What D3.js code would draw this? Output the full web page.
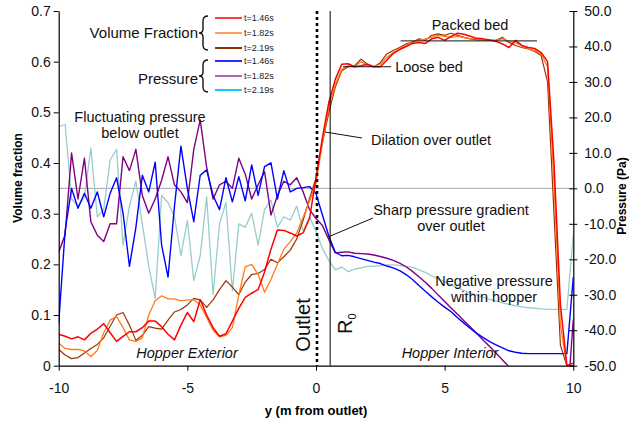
<!DOCTYPE html>
<html>
<head>
<meta charset="utf-8">
<script src="https://cdn.jsdelivr.net/npm/d3@7"></script>
<style>
  body { margin: 0; background: #fff; }
  svg { font-family: "Liberation Sans", Arial, sans-serif; }
</style>
</head>
<body>
<div id="chart"></div>
<script>
// sample positions along y (m from outlet)
const yPos = [-10, -9.75, -9.5, -9.25, -9, -8.75, -8.5, -8.25, -8, -7.75,
  -7.5, -7.25, -7, -6.75, -6.5, -6.25, -6, -5.75, -5.5, -5.25,
  -5, -4.75, -4.5, -4.25, -4, -3.75, -3.5, -3.25, -3, -2.75,
  -2.5, -2.25, -2, -1.75, -1.5, -1.25, -1, -0.75, -0.5, -0.25,
  0, 0.25, 0.5, 0.75, 1, 1.25, 1.5, 1.75, 2, 2.25,
  2.5, 2.75, 3, 3.25, 3.5, 3.75, 4, 4.25, 4.5, 4.75,
  5, 5.25, 5.5, 5.75, 6, 6.25, 6.5, 6.75, 7, 7.25,
  7.5, 7.75, 8, 8.25, 8.5, 8.75, 9, 9.25, 9.5, 9.75, 10];

// volume fraction
const volT146 = [0.062, 0.058, 0.053, 0.057, 0.051, 0.064, 0.072, 0.083, 0.065, 0.048,
  0.058, 0.067, 0.067, 0.075, 0.088, 0.088, 0.077, 0.062, 0.051, 0.080,
  0.105, 0.087, 0.130, 0.100, 0.075, 0.058, 0.063, 0.088, 0.113, 0.135,
  0.143, 0.150, 0.185, 0.230, 0.268, 0.267, 0.262, 0.256, 0.262, 0.291,
  0.370, 0.450, 0.520, 0.565, 0.595, 0.596, 0.590, 0.592, 0.595, 0.590,
  0.590, 0.603, 0.616, 0.624, 0.630, 0.636, 0.638, 0.636, 0.645, 0.648,
  0.642, 0.650, 0.656, 0.654, 0.650, 0.646, 0.645, 0.643, 0.640, 0.635,
  0.628, 0.642, 0.632, 0.628, 0.626, 0.618, 0.600, 0.400, 0.120, 0.000, 0.005];
const volT182 = [0.045, 0.034, 0.032, 0.032, 0.029, 0.018, 0.030, 0.065, 0.090, 0.097,
  0.075, 0.051, 0.048, 0.055, 0.100, 0.128, 0.138, 0.132, 0.132, 0.128,
  0.130, 0.130, 0.120, 0.095, 0.070, 0.057, 0.060, 0.075, 0.140, 0.195,
  0.200, 0.180, 0.145, 0.170, 0.200, 0.230, 0.245, 0.262, 0.293, 0.325,
  0.360, 0.440, 0.510, 0.555, 0.585, 0.592, 0.590, 0.600, 0.592, 0.590,
  0.595, 0.608, 0.618, 0.625, 0.632, 0.640, 0.642, 0.645, 0.648, 0.652,
  0.650, 0.648, 0.650, 0.648, 0.645, 0.645, 0.644, 0.643, 0.642, 0.645,
  0.640, 0.637, 0.632, 0.625, 0.622, 0.615, 0.590, 0.360, 0.080, 0.000, 0.000];
const volT219 = [0.032, 0.021, 0.014, 0.016, 0.025, 0.034, 0.042, 0.055, 0.078, 0.100,
  0.105, 0.080, 0.050, 0.060, 0.077, 0.074, 0.072, 0.090, 0.106, 0.111,
  0.120, 0.133, 0.130, 0.115, 0.130, 0.150, 0.168, 0.155, 0.140, 0.165,
  0.180, 0.182, 0.190, 0.210, 0.203, 0.215, 0.228, 0.250, 0.287, 0.330,
  0.370, 0.440, 0.500, 0.550, 0.582, 0.590, 0.592, 0.605, 0.595, 0.590,
  0.598, 0.615, 0.622, 0.628, 0.635, 0.638, 0.645, 0.642, 0.652, 0.655,
  0.652, 0.656, 0.652, 0.648, 0.645, 0.643, 0.643, 0.642, 0.642, 0.648,
  0.638, 0.632, 0.628, 0.625, 0.620, 0.612, 0.560, 0.300, 0.040, 0.000, 0.000];

// pressure (Pa)
const presT146 = [-38, -12, 0, -5.6, -1.4, -5.6, -1, -8, -1.4, 3,
  -7, -22, -11, 3.7, -1, 7.4, -16, -25, -5, 11.9,
  0, -9.4, 3.7, 5.2, -2, -6, 3, -3.8, 3.3, -3.5,
  6.6, -2, 6.1, 7.2, -3, 5, -1, 0, 0.2, 0.5,
  -1.5, -7.5, -13.5, -18, -19, -18.9, -19.3, -19.8, -20.3, -20.8,
  -21.2, -21.9, -22.4, -23.2, -24.3, -25.7, -27.4, -29, -30.6, -32.1,
  -33.5, -34.8, -36.5, -38, -39.5, -40.9, -42.1, -43.2, -44.1, -45,
  -45.8, -46.2, -46.5, -46.6, -46.6, -46.6, -46.6, -46.6, -46.6, -46.6, -25];
const presT182 = [-18, -13, 10, -3, 8.5, -9.4, -13.2, -15, -10, -10,
  8.9, 5, 11, -2, -7, -3, 2.3, 8.9, 1, -1,
  -4, 11, 19.3, 6, -3, 1, 2, 0, 8.5, 4,
  -3, 1, 4.7, -7.5, -2, 2, 1, 3, -1, -6,
  -8.5, -10.5, -14.5, -18.2, -18, -17.9, -18.3, -18.4, -18.5, -18.8,
  -19.2, -19.7, -20.3, -21.1, -22.1, -23.4, -24.9, -26.5, -28.2, -30.1,
  -31.9, -33.7, -35.5, -37.3, -39.1, -40.9, -42.8, -44.6, -46.5, -48.4,
  -50.3, -52.2, -54, -56, -58, -60, -61, -62, -62, -62, -37];
const presT219 = [17.4, 18, -3, -5, -2.4, 11.3, -8, -6, 8, 11,
  -16, -5, 2, -10, -22, -31, -2, -4, -8, -19,
  -9, -26, -19, -2.4, -30, -10, -4, -29, -10, -11,
  -7, -16, -6, -3.3, -11, -8, -9, -5, -12, -8,
  -12, -17, -20.3, -23, -22.2, -23.5, -22.8, -22.4, -22, -21.9,
  -21.8, -21.6, -21.6, -21.7, -22, -22.3, -23, -23.7, -24.7, -25.5,
  -26.3, -27.2, -28, -28.8, -29.5, -30.1, -30.7, -31.3, -31.8, -32.3,
  -32.7, -33.1, -33.4, -33.6, -33.8, -34, -34.1, -34.1, -34.1, -34.1, -13];

const xTicks = [-10, -5, 0, 5, 10];
const volTicks = [0, 0.1, 0.2, 0.3, 0.4, 0.5, 0.6, 0.7];
const presTicks = [-50, -40, -30, -20, -10, 0, 10, 20, 30, 40, 50];
const timeLabels = ['t=1.46s', 't=1.82s', 't=2.19s'];
const R0 = 0.55;

const w = 629;
const h = 423;
const padding = { top: 11, bottom: 57.3, left: 58.7, right: 55.7 };

// plain hyphen for negatives, like the source chart
const fmt = d3.formatLocale({ decimal: '.', thousands: ',', grouping: [3], currency: ['', ''], minus: '-' });

const xScale = d3.scaleLinear().domain([-10, 10]).range([padding.left, w - padding.right]);
const volScale = d3.scaleLinear().domain([0, 0.7]).range([h - padding.bottom, padding.top]);
const presScale = d3.scaleLinear().domain([-50, 50]).range([h - padding.bottom, padding.top]);

const svg = d3.select('#chart').
  append('svg').
  attr('width', w).
  attr('height', h);

svg.append('clipPath').
  attr('id', 'plot-clip').
  append('rect').
  attr('x', padding.left).
  attr('y', padding.top).
  attr('width', w - padding.left - padding.right).
  attr('height', h - padding.top - padding.bottom);

// grey reference line at 0.35 / 0 Pa
svg.append('line').
  attr('x1', padding.left).
  attr('x2', w - padding.right).
  attr('y1', volScale(0.35)).
  attr('y2', volScale(0.35)).
  attr('stroke', '#a6a6a6').
  attr('stroke-width', 1);

const plot = svg.append('g').attr('clip-path', 'url(#plot-clip)');

const presSeries = [
  { values: presT219, color: '#99cccc', width: 1.3 },
  { values: presT182, color: '#800080', width: 1.4 },
  { values: presT146, color: '#0000ff', width: 1.4 }];

const volSeries = [
  { values: volT219, color: '#993300', width: 1.2 },
  { values: volT182, color: '#ff7a1a', width: 1.3 },
  { values: volT146, color: '#ff0000', width: 1.5 }];

presSeries.forEach(function (s) {
  const line = d3.line().
    x((d, i) => xScale(yPos[i])).
    y(d => presScale(d));
  plot.append('path').
    datum(s.values).
    attr('d', line).
    attr('fill', 'none').
    attr('stroke', s.color).
    attr('stroke-width', s.width).
    attr('stroke-linejoin', 'round');
});

volSeries.forEach(function (s) {
  const line = d3.line().
    x((d, i) => xScale(yPos[i])).
    y(d => volScale(d));
  plot.append('path').
    datum(s.values).
    attr('d', line).
    attr('fill', 'none').
    attr('stroke', s.color).
    attr('stroke-width', s.width).
    attr('stroke-linejoin', 'round');
});

// outlet (dotted) and R0 lines
svg.append('line').
  attr('x1', xScale(0) + 1).
  attr('x2', xScale(0) + 1).
  attr('y1', padding.top).
  attr('y2', h - padding.bottom).
  attr('stroke', '#000').
  attr('stroke-width', 2.6).
  attr('stroke-dasharray', '3,3');

svg.append('line').
  attr('x1', xScale(R0)).
  attr('x2', xScale(R0)).
  attr('y1', padding.top).
  attr('y2', h - padding.bottom).
  attr('stroke', '#000').
  attr('stroke-width', 1);

// axes
const xAxis = d3.axisBottom(xScale).tickValues(xTicks).tickSize(5).tickSizeOuter(0).tickPadding(12).
  tickFormat(fmt.format('d'));
const yAxis = d3.axisLeft(volScale).tickValues(volTicks).tickSize(5).tickSizeOuter(0).tickPadding(3).
  tickFormat(d => d === 0 ? '0' : fmt.format('.1f')(d));
const y2Axis = d3.axisRight(presScale).tickValues(presTicks).tickSize(4).tickSizeOuter(0).tickPadding(7).
  tickFormat(fmt.format('.1f'));

const gx = svg.append('g').
  attr('id', 'x-axis').
  attr('transform', 'translate(0,' + (h - padding.bottom) + ')').
  call(xAxis);

const gy = svg.append('g').
  attr('id', 'y-axis').
  attr('transform', 'translate(' + padding.left + ',0)').
  call(yAxis);

const gy2 = svg.append('g').
  attr('id', 'y2-axis').
  attr('transform', 'translate(' + (w - padding.right) + ',0)').
  call(y2Axis);
gy2.selectAll('.tick line').attr('x1', -4);

[gx, gy, gy2].forEach(function (g) {
  g.selectAll('.domain').attr('stroke', '#000').attr('stroke-width', 1.2);
  g.selectAll('.tick line').attr('stroke', '#000');
  g.selectAll('text').
    attr('fill', '#111').
    style('font-size', '14px').
    style('font-family', '"Liberation Sans", Arial, sans-serif');
});

// axis titles
svg.append('text').
  attr('x', (padding.left + w - padding.right) / 2).
  attr('y', 415).
  attr('text-anchor', 'middle').
  style('font-size', '13px').
  style('font-weight', 'bold').
  text('y (m from outlet)');

svg.append('text').
  attr('transform', 'translate(21.5,178) rotate(-90)').
  attr('text-anchor', 'middle').
  style('font-size', '12px').
  style('font-weight', 'bold').
  text('Volume fraction');

svg.append('text').
  attr('transform', 'translate(625.5,196) rotate(-90)').
  attr('text-anchor', 'middle').
  style('font-size', '12px').
  style('font-weight', 'bold').
  text('Pressure (Pa)');

// legend
const legendRows = [18, 33, 48, 61, 76, 90];
const legendColors = ['#ff3b3b', '#ffa060', '#8b2e05', '#2a2aff', '#b565b5', '#11ccff'];
const legend = svg.append('g').attr('id', 'legend');

legendRows.forEach(function (ly, i) {
  legend.append('line').
    attr('x1', 215).
    attr('x2', 242).
    attr('y1', ly).
    attr('y2', ly).
    attr('stroke', legendColors[i]).
    attr('stroke-width', 2);
  legend.append('text').
    attr('x', 244).
    attr('y', ly + 3).
    style('font-size', '9px').
    attr('fill', '#222').
    text(timeLabels[i % 3]);
});

legend.append('text').
  attr('x', 198).
  attr('y', 38).
  attr('text-anchor', 'end').
  style('font-size', '15px').
  attr('fill', '#111').
  text('Volume Fraction');

legend.append('text').
  attr('x', 198).
  attr('y', 84).
  attr('text-anchor', 'end').
  style('font-size', '15px').
  attr('fill', '#111').
  text('Pressure');

function brace(top, bottom) {
  const x = 208;
  const m = (top + bottom) / 2;
  return 'M' + x + ',' + top +
    ' Q' + (x - 5) + ',' + top + ' ' + (x - 5) + ',' + (top + 5) +
    ' L' + (x - 5) + ',' + (m - 4) +
    ' Q' + (x - 5) + ',' + m + ' ' + (x - 9) + ',' + m +
    ' Q' + (x - 5) + ',' + m + ' ' + (x - 5) + ',' + (m + 4) +
    ' L' + (x - 5) + ',' + (bottom - 5) +
    ' Q' + (x - 5) + ',' + bottom + ' ' + x + ',' + bottom;
}

legend.append('path').attr('d', brace(16, 50)).attr('fill', 'none').attr('stroke', '#111').attr('stroke-width', 1.4);
legend.append('path').attr('d', brace(60, 92)).attr('fill', 'none').attr('stroke', '#111').attr('stroke-width', 1.4);

// annotations
const notes = [
  { x: 140, y: 122, lines: ['Fluctuating pressure', 'below outlet'] },
  { x: 470, y: 30, lines: ['Packed bed'] },
  { x: 429, y: 72, lines: ['Loose bed'] },
  { x: 431, y: 145, lines: ['Dilation over outlet'] },
  { x: 451, y: 215, lines: ['Sharp pressure gradient', 'over outlet'] },
  { x: 494, y: 286, lines: ['Negative pressure', 'within hopper'] }];

notes.forEach(function (n) {
  const t = svg.append('text').
    attr('text-anchor', 'middle').
    attr('fill', '#111').
    style('font-size', '14.5px');
  n.lines.forEach(function (l, i) {
    t.append('tspan').
      attr('x', n.x).
      attr('y', n.y + i * 15.5).
      text(l);
  });
});

const leaders = [
  [xScale(3.29), volScale(0.641), xScale(8.59), volScale(0.641)],
  [xScale(1.05), volScale(0.59), xScale(2.92), volScale(0.59)],
  [325, 132, 362, 138],
  [328, 237, 373, 218]];

leaders.forEach(function (l) {
  svg.append('line').
    attr('x1', l[0]).attr('y1', l[1]).
    attr('x2', l[2]).attr('y2', l[3]).
    attr('stroke', '#111').
    attr('stroke-width', 1);
});

svg.append('text').
  attr('x', 187).
  attr('y', 358).
  attr('text-anchor', 'middle').
  style('font-size', '14.5px').
  style('font-style', 'italic').
  attr('fill', '#111').
  text('Hopper Exterior');

svg.append('text').
  attr('x', 450).
  attr('y', 358).
  attr('text-anchor', 'middle').
  style('font-size', '14.5px').
  style('font-style', 'italic').
  attr('fill', '#111').
  text('Hopper Interior');

svg.append('text').
  attr('transform', 'translate(310,325) rotate(-90)').
  attr('text-anchor', 'middle').
  style('font-size', '20px').
  attr('fill', '#111').
  text('Outlet');

const r0 = svg.append('text').
  attr('transform', 'translate(352,334) rotate(-90)').
  style('font-size', '20px').
  attr('fill', '#111');
r0.append('tspan').text('R');
r0.append('tspan').attr('dy', 4).style('font-size', '11px').text('0');
</script>
</body>
</html>
